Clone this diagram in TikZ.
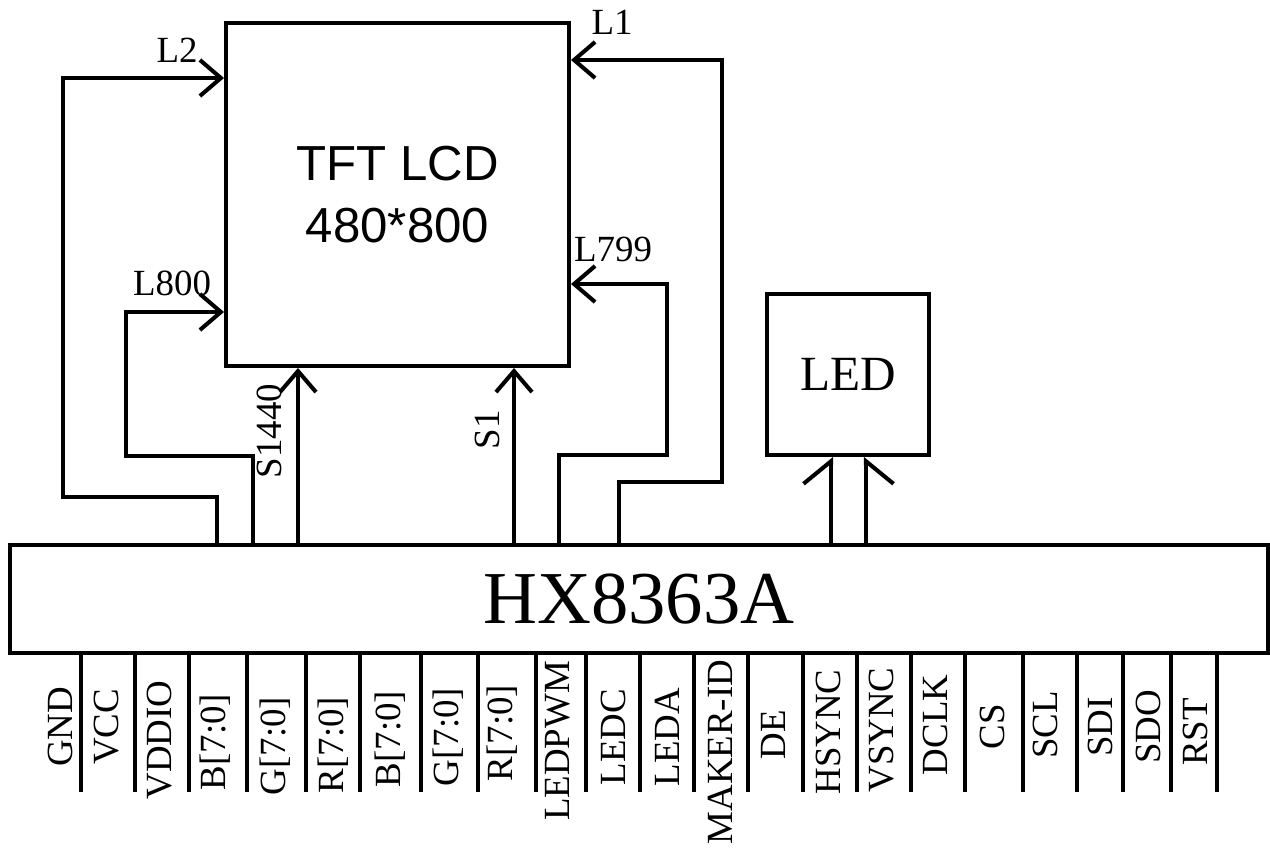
\documentclass[tikz,border=0pt]{standalone}
\usepackage{fontspec}
\setmainfont{Liberation Serif}
\newfontfamily\lcdfont{Liberation Sans}
\usetikzlibrary{arrows.meta, positioning, calc}
\tikzset{
  every picture/.style={line width=2.3pt, x=0.02cm, y=-0.02cm},
  block/.style={draw, rectangle, line width=2.3pt, inner sep=0pt, align=center},
  wire/.style={line join=miter, -{Straight Barb[length=0.42cm, width=0.72cm, line width=2.3pt]}},
  halfwire/.style={line join=miter, -{Straight Barb[length=0.45cm, width=1.1cm, line width=2.3pt, #1]}},
  sig/.style={font=\fontsize{21}{21}\selectfont, inner sep=0pt},
  pinlabel/.style={sig, rotate=90},
}

\begin{document}
\begin{tikzpicture}
  \useasboundingbox (0,0) rectangle (1270,848);
  % blocks
  \node[block, minimum width=6.86cm, minimum height=6.86cm,
        font=\lcdfont\fontsize{28}{35}\selectfont] (lcd) at (397.5,194.5) {TFT LCD\\480*800};
  \node[block, minimum width=3.24cm, minimum height=3.22cm,
        font=\fontsize{28}{28}\selectfont] (led) at (848,374.5) {LED};
  \node[block, minimum width=25.16cm, minimum height=2.16cm,
        font=\fontsize{42.5}{42.5}\selectfont] (hx) at (639,599) {HX8363A};
  % gate lines
  \draw[wire] (hx.north -| 217,0) |- (63,497) |- (lcd.west |- 0,78);
  \draw[wire] (hx.north -| 253,0) |- (126,456) |- (lcd.west |- 0,312);
  \draw[wire] (hx.north -| 559,0) |- (667,455) |- (lcd.east |- 0,284);
  \draw[wire] (hx.north -| 619,0) |- (722,482) |- (lcd.east |- 0,60);
  \node[sig] (l2) at (177,50) {L2};
  \node[sig] (l800) at (172,283) {L800};
  \node[sig] (l799) at (613,249) {L799};
  \node[sig] (l1) at (612,22) {L1};
  % source lines
  \draw[wire] (hx.north -| 298,0) -- (lcd.south -| 298,0);
  \draw[wire] (hx.north -| 514,0) -- (lcd.south -| 514,0);
  \node[pinlabel] (s1440) at (269,431) {S1440};
  \node[pinlabel] (s1) at (487,430) {S1};
  % backlight
  \draw[halfwire=left] (hx.north -| 831,0) -- (led.south -| 831,0);
  \draw[halfwire=right] (hx.north -| 866,0) -- (led.south -| 866,0);
  % interface pins
  \foreach \px/\lx/\ly/\txt in {81/60/727/GND, 135/107/727/VCC, 189/160/740/VDDIO,
      247/215/742/B[7:0], 306/275/746/G[7:0], 360/333/745/R[7:0], 421/390/739/B[7:0],
      478/448/737/G[7:0], 536/502/733/R[7:0], 586/558/741/LEDPWM, 640/613/737/LEDC,
      694/667/737/LEDA, 748/720/752/MAKER-ID, 803/773/735/DE, 857/828/732/HSYNC,
      911/882/730/VSYNC, 965/935/725/DCLK, 1023/992/727/CS, 1077/1045/725/SCL,
      1123/1100/727/SDI, 1171/1148/727/SDO, 1217/1195/732/RST} {
    \draw (hx.south -| \px,0) -- (\px,792);
    \node[pinlabel] (p\px) at (\lx,\ly) {\txt};
  }
\end{tikzpicture}
\end{document}
